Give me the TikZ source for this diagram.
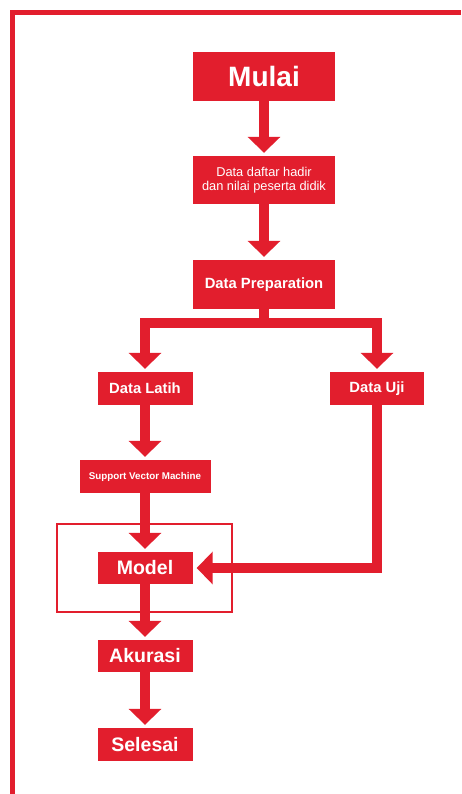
\documentclass[tikz,border=0pt]{standalone}
\usepackage{fontspec}
\setmainfont{Liberation Sans}
\usetikzlibrary{arrows.meta}

\definecolor{flowred}{RGB}{226,30,45}

\tikzset{
    box/.style={fill=flowred, text=white, inner sep=0pt, align=center},
    flow/.style={draw=flowred, line width=10pt, line join=miter, -{Triangle[width=32pt,length=16pt]}, shorten >=3pt},
}

\begin{document}
\begin{tikzpicture}[x=1pt, y=-1pt]

    % Draw the page and its frame
    \fill[white] (0,0) rectangle (461,794);
    \useasboundingbox (0,0) rectangle (461,794);
    \draw[flowred, line width=5pt] (12.5,794) -- (12.5,12.5) -- (461,12.5);

    % Draw the boxes of the flow
    \node[box, minimum width=142pt, minimum height=49pt, font=\bfseries\fontsize{28}{30}\selectfont] (mulai) at (264,76.5) {Mulai};
    \node[box, minimum width=142pt, minimum height=48pt, font=\fontsize{12.8}{14}\selectfont] (dataset) at (264,180) {Data daftar hadir\\dan nilai peserta didik};
    \node[box, minimum width=142pt, minimum height=49pt, font=\bfseries\fontsize{14.8}{16}\selectfont] (prep) at (264,284.5) {Data Preparation};
    \node[box, minimum width=95pt, minimum height=33pt, font=\bfseries\fontsize{14.8}{16}\selectfont] (latih) at (145,388.5) {Data Latih};
    \node[box, minimum width=94pt, minimum height=33pt, font=\bfseries\fontsize{14.8}{16}\selectfont] (uji) at (377,388.5) {Data Uji};
    \node[box, minimum width=131pt, minimum height=33pt, font=\bfseries\fontsize{9.8}{11}\selectfont] (svm) at (145,476.5) {Support Vector Machine};
    \node[box, minimum width=95pt, minimum height=32pt, font=\bfseries\fontsize{19.5}{21}\selectfont] (model) at (145,568) {Model};
    \node[box, minimum width=95pt, minimum height=32pt, font=\bfseries\fontsize{19.5}{21}\selectfont] (akurasi) at (145,656) {Akurasi};
    \node[box, minimum width=95pt, minimum height=33pt, font=\bfseries\fontsize{19.5}{21}\selectfont] (selesai) at (145,744.5) {Selesai};

    % Draw the thin box round the model
    \draw[flowred, line width=1.2pt] (57,524) rectangle (232,612);

    % Draw the arrows
    \draw[flow] (mulai.south) -- (dataset.north);
    \draw[flow] (dataset.south) -- (prep.north);
    \draw[flow] (prep.south) -- ++(0,13.5) -| (latih.north);
    \draw[flow] (prep.south) -- ++(0,13.5) -| (uji.north);
    \draw[flow] (latih.south) -- (svm.north);
    \draw[flow] (svm.south) -- (model.north);
    \draw[flow, shorten >=4pt] (uji.south) |- (model.east);
    \draw[flow] (model.south) -- (akurasi.north);
    \draw[flow] (akurasi.south) -- (selesai.north);

\end{tikzpicture}
\end{document}
